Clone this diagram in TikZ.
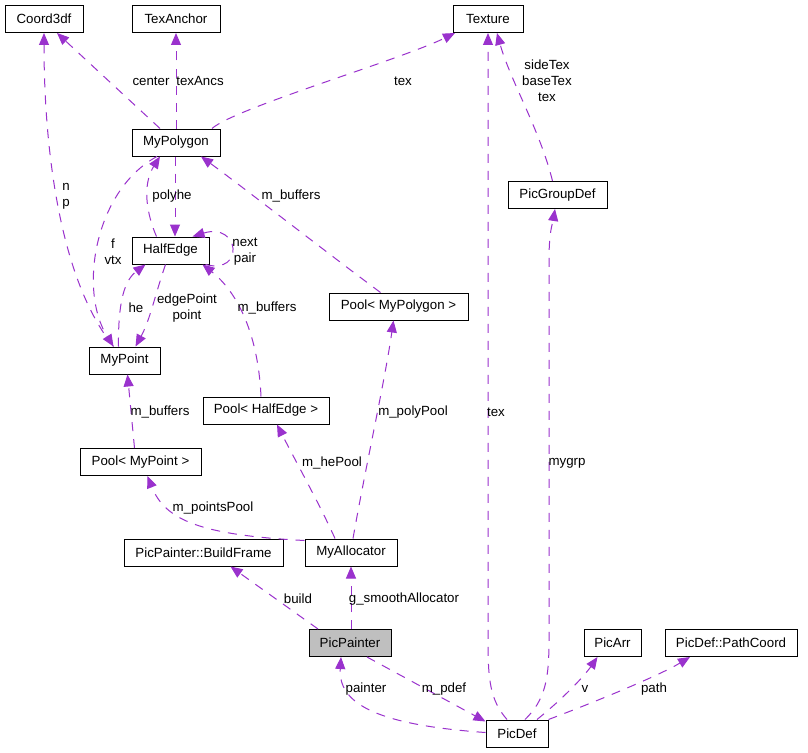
\documentclass[tikz,border=0pt]{standalone}
\usepackage{fontspec}
\setmainfont{Liberation Sans}
\usetikzlibrary{arrows.meta,calc}
\definecolor{edgec}{HTML}{9A32CD}
\definecolor{fillg}{HTML}{BFBFBF}
\begin{document}
\begin{tikzpicture}[x=1pt,y=-1pt,
  cls/.style={draw=black,line width=1pt,inner sep=0pt,minimum height=27pt,font=\fontsize{13.3}{16}\selectfont,fill=white},
  rel/.style={draw=edgec,line width=1pt,dash pattern=on 9pt off 8pt,-{Triangle[length=12pt,width=10pt,fill=edgec]}},
  lbl/.style={font=\fontsize{13.3}{16}\selectfont,inner sep=0pt,align=center}
]
\useasboundingbox (0,0) rectangle (808,752);
\fill[white] (0,0) rectangle (808,752);

% classes
\node[cls,minimum width=78pt] (coord) at (44,19) {Coord3df};
\node[cls,minimum width=88pt] (texanchor) at (176,19) {TexAnchor};
\node[cls,minimum width=70pt] (texture) at (488,19) {Texture};
\node[cls,minimum width=88pt] (mypolygon) at (176,142.5) {MyPolygon};
\node[cls,minimum width=99pt] (picgroupdef) at (557.5,195) {PicGroupDef};
\node[cls,minimum width=77pt] (halfedge) at (170.5,250.5) {HalfEdge};
\node[cls,minimum width=139pt] (poolpoly) at (398.5,306.5) {Pool< MyPolygon >};
\node[cls,minimum width=71pt] (mypoint) at (124.5,360.5) {MyPoint};
\node[cls,minimum width=126pt] (poolhe) at (266,410.5) {Pool< HalfEdge >};
\node[cls,minimum width=121pt] (poolpt) at (140.5,462) {Pool< MyPoint >};
\node[cls,minimum width=159pt] (buildframe) at (203.5,552.5) {PicPainter::BuildFrame};
\node[cls,minimum width=92pt] (myalloc) at (351,552.5) {MyAllocator};
\node[cls,minimum width=82pt,fill=fillg] (picpainter) at (350,643) {PicPainter};
\node[cls,minimum width=57pt] (picarr) at (612.5,643) {PicArr};
\node[cls,minimum width=132pt] (pathcoord) at (731,643) {PicDef::PathCoord};
\node[cls,minimum width=62pt] (picdef) at (517,733.5) {PicDef};

% relations
\draw[rel] ([xshift=-16pt]mypolygon.north) -- ([xshift=13pt]coord.south);
\draw[rel] (mypolygon.north) -- (texanchor.south);
\draw[rel] ([xshift=36pt]mypolygon.north) .. controls (235,108) and (400,60) .. ([xshift=-33pt]texture.south);
\draw[rel] ([xshift=-11pt]mypoint.north) .. controls (60,280) and (44,150) .. (coord.south);
\draw[rel] ([xshift=-19pt]mypolygon.south) .. controls (95,190) and (78,290) .. ([xshift=-11pt]mypoint.north);
\draw[rel] ([xshift=-14pt]halfedge.north) .. controls (143,205) and (145,180) .. ([xshift=-16pt]mypolygon.south);
\draw[rel] ([xshift=-1pt]mypolygon.south) -- ([xshift=4.5pt]halfedge.north);
\draw[rel] ([xshift=35pt]halfedge.south) .. controls (245,275) and (240,222) .. ([xshift=22pt]halfedge.north);
\draw[rel] ([xshift=-6pt]mypoint.north) .. controls (118,300) and (125,280) .. ([xshift=-25pt]halfedge.south);
\draw[rel] ([xshift=-5pt]halfedge.south) .. controls (155,295) and (150,320) .. ([xshift=11pt]mypoint.north);
\draw[rel] ([xshift=-5pt]poolhe.north) .. controls (258,330) and (235,290) .. ([xshift=32pt]halfedge.south);
\draw[rel] ([xshift=-18pt]poolpoly.north) .. controls (330,255) and (240,185) .. ([xshift=25pt]mypolygon.south);
\draw[rel] ([xshift=-6pt]poolpt.north) -- ([xshift=3pt]mypoint.south);
\draw[rel] ([yshift=-2pt]myalloc.north west) .. controls (200,535) and (165,520) .. ([xshift=7pt]poolpt.south);
\draw[rel] ([xshift=-16pt]myalloc.north) .. controls (320,505) and (295,460) .. ([xshift=11pt]poolhe.south);
\draw[rel] ([xshift=2pt]myalloc.north) .. controls (365,470) and (385,380) .. ([xshift=-5pt]poolpoly.south);
\draw[rel] ([xshift=-32pt]picpainter.north) -- ([xshift=27pt]buildframe.south);
\draw[rel] ([xshift=1pt]picpainter.north) -- (myalloc.south);
\draw[rel] ([xshift=17pt]picpainter.south) -- ([yshift=-2pt]picdef.north west);
\draw[rel] ([yshift=1pt]picdef.west) .. controls (380,725) and (338,705) .. ([xshift=-9pt]picpainter.south);
\draw[rel] ([xshift=-10pt]picdef.north) .. controls (490,700) and (488,680) .. (488,640) -- (texture.south);
\draw[rel] ([xshift=8pt]picdef.north) .. controls (545,700) and (549,680) .. (549,640) -- (549,260) .. controls (549,230) and (553,222) .. ([xshift=-2.5pt]picgroupdef.south);
\draw[rel] ([xshift=20pt]picdef.north) .. controls (565,697) and (585,675) .. ([xshift=-15pt]picarr.south);
\draw[rel] (picdef.north east) .. controls (600,700) and (660,675) .. ([xshift=-41pt]pathcoord.south);
\draw[rel] ([xshift=-5pt]picgroupdef.north) .. controls (540,130) and (510,80) .. ([xshift=9pt]texture.south);

% labels
\node[lbl] (l1) at (151,81) {center};
\node[lbl] (l2) at (200,81) {texAncs};
\node[lbl] (l3) at (403,81) {tex};
\node[lbl] (l4) at (547,81) {sideTex\\baseTex\\tex};
\node[lbl] (l5) at (66,196) {n\\p};
\node[lbl] (l6) at (113,252) {f\\vtx};
\node[lbl] (l7) at (172,196) {polyhe};
\node[lbl] (l8) at (291,196) {m\_buffers};
\node[lbl] (l9) at (245,252) {next\\pair};
\node[lbl] (l10) at (136,308) {he};
\node[lbl] (l11) at (187,308) {edgePoint\\point};
\node[lbl] (l12) at (267,308) {m\_buffers};
\node[lbl] (l13) at (160,412) {m\_buffers};
\node[lbl] (l14) at (413,412) {m\_polyPool};
\node[lbl] (l15) at (496,412) {tex};
\node[lbl] (l16) at (332,463) {m\_hePool};
\node[lbl] (l17) at (567,463) {mygrp};
\node[lbl] (l18) at (213,508) {m\_pointsPool};
\node[lbl] (l19) at (298,599) {build};
\node[lbl] (l20) at (404,599) {g\_smoothAllocator};
\node[lbl] (l21) at (366,689) {painter};
\node[lbl] (l22) at (444,689) {m\_pdef};
\node[lbl] (l23) at (585,689) {v};
\node[lbl] (l24) at (654,689) {path};
\end{tikzpicture}
\end{document}
